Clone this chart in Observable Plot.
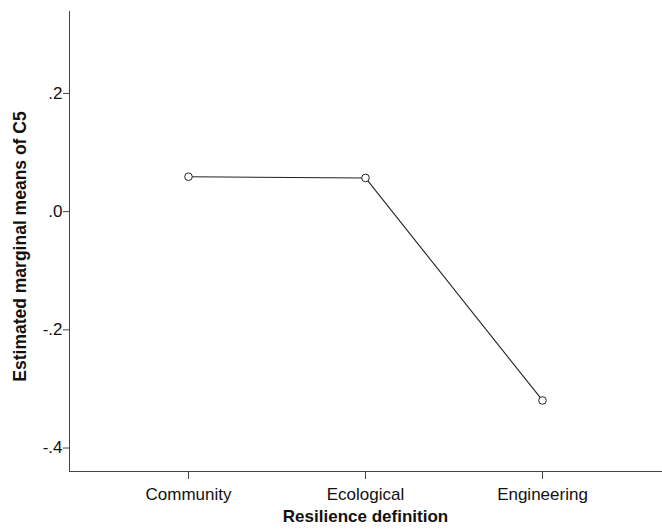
<!DOCTYPE html>
<html>
<head>
<meta charset="utf-8">
<script src="https://cdn.jsdelivr.net/npm/d3@7"></script>
<script src="https://cdn.jsdelivr.net/npm/@observablehq/plot@0.6"></script>
<style>
  html, body { margin: 0; padding: 0; background: #fff; }
</style>
</head>
<body>
<div id="chart"></div>
<script>
const categories = ["Community", "Ecological", "Engineering"];
const means = [0.059, 0.057, -0.3195];
const yTicks = [0.2, 0.0, -0.2, -0.4];
const xLabel = "Resilience definition";
const yLabel = "Estimated marginal means of C5";

const data = categories.map((c, i) => ({category: c, mean: means[i]}));
const fmt = d => (d === 0 ? ".0" : d3.format(".1f")(d).replace("−", "-").replace("0.", "."));

const chart = Plot.plot({
  width: 662,
  height: 529,
  marginLeft: 69,
  marginRight: 1,
  marginTop: 11,
  marginBottom: 58,
  style: {fontFamily: "'Liberation Sans', Arial, sans-serif", fontSize: "17px", color: "#111", background: "#fff"},
  x: {type: "point", domain: categories, padding: 0.665},
  y: {domain: [-0.4397, 0.3386]},
  marks: [
    Plot.frame({anchor: "left", stroke: "#444"}),
    Plot.frame({anchor: "bottom", stroke: "#444"}),
    Plot.axisX({tickSize: 8, tickPadding: 8, stroke: "#444", label: null, fontSize: 17}),
    Plot.axisY({ticks: yTicks, tickFormat: fmt, tickSize: 6, tickPadding: 1, stroke: "#444", label: null, fontSize: 17}),
    Plot.text([xLabel], {frameAnchor: "bottom", dy: 50, text: d => d, fontWeight: "bold", fontSize: 17, fill: "#111"}),
    Plot.text([yLabel], {frameAnchor: "left", dx: -49, dy: 5, rotate: -90, textAnchor: "middle", text: d => d, fontWeight: "bold", fontSize: 17.5, fill: "#111"}),
    Plot.line(data, {x: "category", y: "mean", stroke: "#222", strokeWidth: 1.1}),
    Plot.dot(data, {x: "category", y: "mean", r: 3.8, stroke: "#222", strokeWidth: 1, fill: "white"})
  ]
});
document.getElementById("chart").appendChild(chart);
</script>
</body>
</html>
